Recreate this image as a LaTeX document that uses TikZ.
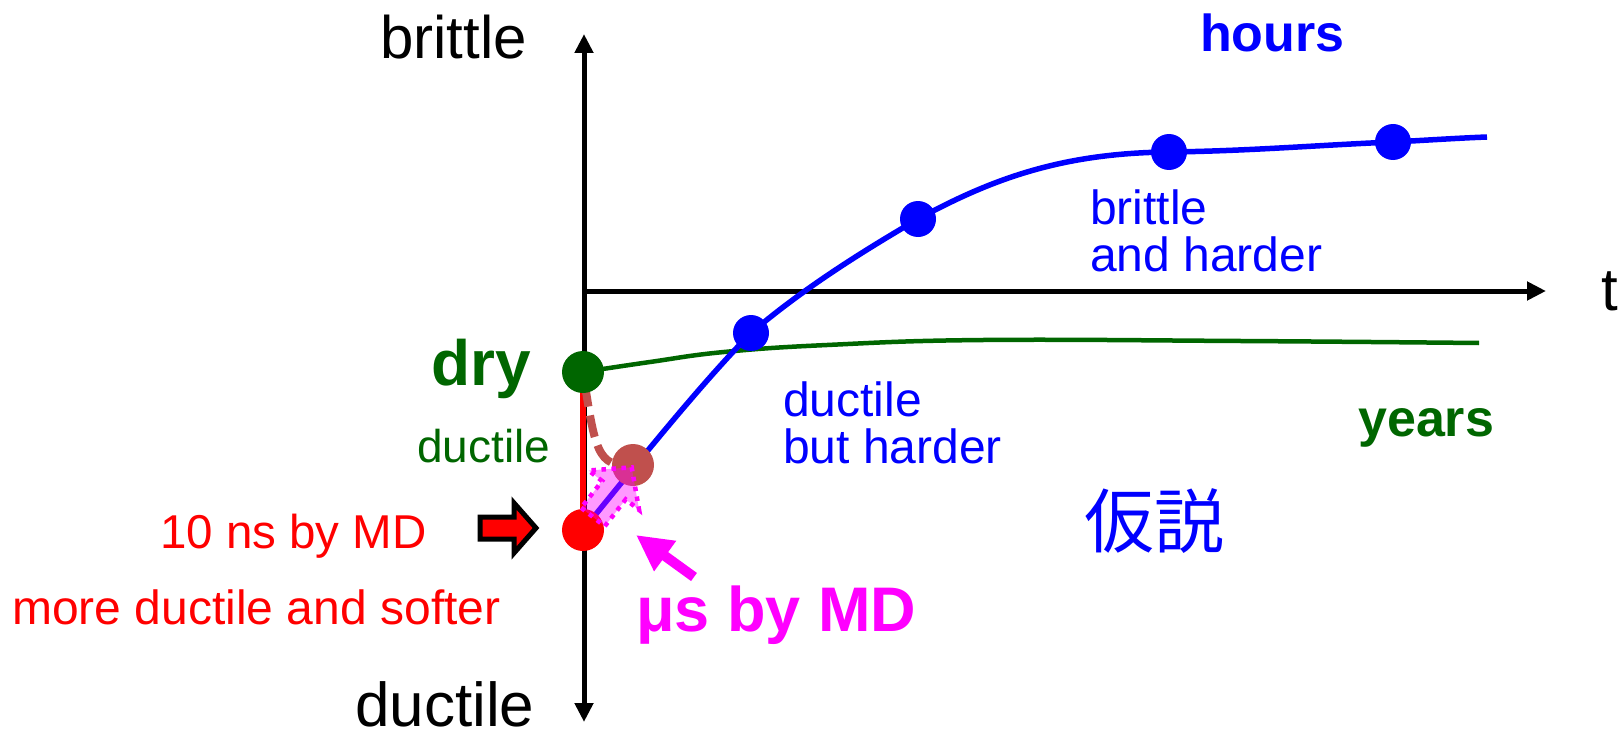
\documentclass[tikz,border=0pt]{standalone}
\usepackage{fontspec}
\setmainfont{Liberation Sans}
\newfontfamily\cjkfont{Noto Sans CJK JP}
\usetikzlibrary{arrows.meta}
\definecolor{dgreen}{RGB}{0,102,0}
\definecolor{bred}{RGB}{192,80,77}
\definecolor{pblue}{RGB}{0,0,255}
\definecolor{pred}{RGB}{255,0,0}
\definecolor{pmag}{RGB}{255,0,255}
\newcommand\setfs[1]{\fontsize{#1}{#1}\selectfont}
\begin{document}
\begin{tikzpicture}[x=1pt,y=-1pt,
  axisline/.style={line width=5pt, draw=black},
  axtip/.tip={Triangle[length=19pt,width=18pt]},
  redline/.style={line width=6pt, draw=pred},
  greencurve/.style={line width=4.5pt, draw=dgreen},
  bluecurve/.style={line width=5.5pt, draw=pblue},
  dashbrown/.style={line width=8pt, draw=bred, dash pattern=on 22pt off 9pt, dash phase=18pt},
  dot/.style={circle, inner sep=0pt, minimum size=42pt},
  bdot/.style={circle, inner sep=0pt, minimum size=36pt, fill=pblue},
  pinkarrow/.style={fill=pmag, fill opacity=0.4, draw=pmag, draw opacity=1, line width=4.5pt, dash pattern=on 4.5pt off 5.5pt},
  blockarrow/.style={line width=5pt, fill=pred, draw=black, line join=miter},
  pointer/.style={line width=10pt, draw=pmag, -{Triangle[length=36pt,width=35pt]}},
  lbl/.style={inner sep=0pt, anchor=base west}
]
\useasboundingbox (0,0) rectangle (1622,733);
\fill[white] (0,0) rectangle (1622,733);

% coordinates
\coordinate (top) at (584,34);
\coordinate (bot) at (584,722);
\coordinate (orig) at (582,291);
\coordinate (tend) at (1546,291);
\coordinate (pDry) at (583,372);
\coordinate (pRed) at (583,530);
\coordinate (pBrown) at (633,465);
\coordinate (pB1) at (751,333);
\coordinate (pB2) at (918,219);
\coordinate (pB3) at (1169,152);
\coordinate (pB4) at (1393,142);
\coordinate (blueEnd) at (1487,137);
\coordinate (greenEnd) at (1479,343);

% axes
\draw[axisline, axtip-axtip] (bot) -- (top);
\draw[axisline, -axtip] (orig) -- (tend);

% curves
\draw[redline] (pDry) -- (pRed);
\draw[greencurve] plot[smooth, tension=0.7] coordinates {(pDry) (650,362) (724,352) (827,345) (983,340) (1241,341) (greenEnd)};
\draw[bluecurve] (pRed) .. controls (640,460) and (700,385) .. (pB1)
  .. controls (805,287) and (865,250) .. (pB2)
  .. controls (990,180) and (1060,153) .. (pB3)
  .. controls (1250,151) and (1320,145) .. (pB4)
  .. controls (1430,140) and (1460,138) .. (blueEnd);
\draw[dashbrown] (pDry) .. controls (595,450) and (597,468) .. (pBrown);

% dots
\node[dot, fill=dgreen] (dry) at (pDry) {};
\node[dot, fill=pred] (red) at (pRed) {};
\node[dot, fill=bred] (brown) at (pBrown) {};
\node[bdot] (b1) at (pB1) {};
\node[bdot] (b2) at (pB2) {};
\node[bdot] (b3) at (pB3) {};
\node[bdot] (b4) at (pB4) {};

% pink block arrow
\draw[pinkarrow] (581.2,507.8) -- (604.8,526.2) -- (625.7,499.4) -- (639.1,509.9) -- (631.7,467.3) -- (588.7,470.5) -- (602.1,481.0) -- cycle;

% red block arrow
\draw[blockarrow] (480,517) -- (514,517) -- (514,503) -- (536,528) -- (514,553) -- (514,539) -- (480,539) -- cycle;

% magenta pointer
\coordinate (muTail) at (694,577);
\coordinate (muTip) at (636,535);
\draw[pointer] (muTail) -- (muTip);

% labels
\node[lbl, font=\setfs{60}] (brittleTop) at (380,59) {brittle};
\node[lbl, font=\setfs{62}] (ductileBot) at (355,726) {ductile};
\node[lbl, font=\setfs{60}] (tlab) at (1601,310) {t};
\node[lbl, font=\bfseries\setfs{52}, text=pblue] (hours) at (1200,52) {hours};
\node[lbl, font=\setfs{48}, text=pblue] (bh1) at (1090,224) {brittle};
\node[lbl, font=\setfs{48}, text=pblue] (bh2) at (1090,271) {and harder};
\node[lbl, font=\setfs{48}, text=pblue] (dh1) at (783,416) {ductile};
\node[lbl, font=\setfs{48}, text=pblue] (dh2) at (783,463) {but harder};
\node[lbl, font=\bfseries\setfs{64}, text=dgreen] (drylab) at (431,385) {dry};
\node[lbl, font=\setfs{46}, text=dgreen] (ductG) at (417,462) {ductile};
\node[lbl, font=\bfseries\setfs{52}, text=dgreen] (years) at (1358,436) {years};
\node[lbl, font=\setfs{47.5}, text=pred] (tenns) at (160,548) {10 ns by MD};
\node[lbl, font=\setfs{48}, text=pred] (softer) at (12,624) {more ductile and softer};
\node[lbl, font=\bfseries\setfs{63}, text=pmag] (mus) at (636,631) {μs by MD};
\node[inner sep=0pt, anchor=west, font=\cjkfont\setfs{70}, text=pblue] (kasetsu) at (1084,521) {仮説};
\end{tikzpicture}
\end{document}
